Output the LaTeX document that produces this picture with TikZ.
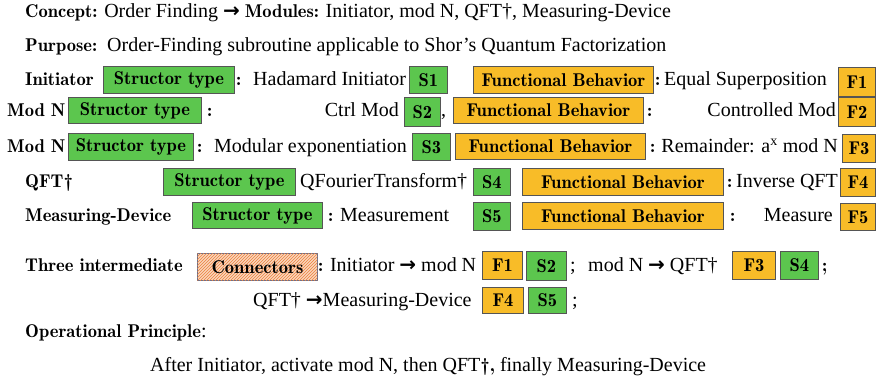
\documentclass[tikz,border=0pt]{standalone}
\usepackage{fontspec}
\setmainfont{Liberation Serif}
\newfontfamily\demi{lmromandemi10-regular}[Extension=.otf]
\newfontfamily\arrowfont{DejaVu Sans}
\usetikzlibrary{patterns}
\definecolor{sgreen}{RGB}{92,198,78}
\definecolor{forange}{RGB}{248,188,40}
\definecolor{cpeach}{RGB}{250,214,188}
\definecolor{cstripe}{RGB}{236,128,60}
\definecolor{cedge}{RGB}{105,112,140}
\definecolor{bedge}{RGB}{85,85,85}
\newcommand{\bt}[1]{{\demi\fontsize{18.5}{22}\selectfont #1}}
\newcommand{\rarr}{{\arrowfont\bfseries →}}
\tikzset{
  txt/.style={anchor=base west, inner sep=0pt, font=\fontsize{20}{24}\selectfont},
  txtr/.style={anchor=base east, inner sep=0pt, font=\fontsize{20}{24}\selectfont},
  tag/.style={draw=bedge, line width=0.9pt, inner sep=0pt, anchor=north west,
    font=\demi\fontsize{18.5}{22}\selectfont},
  sbox/.style={tag, fill=sgreen},
  fbox/.style={tag, fill=forange},
  cbox/.style={tag, draw=cedge, fill=cpeach,
    postaction={pattern=north east lines, pattern color=cstripe}},
}
% style, name, left, top, right, bottom; the label follows in braces
\newcommand{\boxat}[6]{%
  \node[#1, minimum width=#5pt-#3pt, minimum height=#6pt-#4pt] (#2) at (#3,#4)}
\begin{document}
\begin{tikzpicture}[x=1pt,y=-1pt]
\useasboundingbox[fill=white] (0,0) rectangle (885,379);

% heading lines
\node[txt] (concept) at (25,18) {\bt{Concept:} Order Finding \rarr{} \bt{Modules:} Initiator, mod N, QFT†, Measuring-Device};
\node[txt] (purpose) at (25,52) {\bt{Purpose:}\ \ Order-Finding subroutine applicable to Shor’s Quantum Factorization};

% Initiator
\node[txt] (l1) at (25,86) {\bt{Initiator}};
\boxat{sbox}{st1}{103}{66}{234}{93} {Structor type};
\node[txt] (c1) at (236,86) {\bt{:}};
\node[txt] (s1t) at (253,86) {Hadamard Initiator};
\boxat{sbox}{S1}{409}{66}{447}{93} {S1};
\boxat{fbox}{fb1}{473}{66}{653}{93} {Functional Behavior};
\node[txt] (c1b) at (655,86) {\bt{:}};
\node[txt] (f1t) at (664,86) {Equal Superposition};
\boxat{fbox}{F1}{838}{67}{875}{96} {F1};

% Mod N (control)
\node[txt] (l2) at (7,117) {\bt{Mod N}};
\boxat{sbox}{st2}{68}{97}{201}{123} {Structor type};
\node[txt] (c2) at (207,117) {\bt{:}};
\node[txtr] (s2t) at (399,117) {Ctrl Mod};
\boxat{sbox}{S2}{404}{97}{440}{126} {S2};
\node[txt] (cm2) at (441,117) {,};
\boxat{fbox}{fb2}{453}{97}{643}{123} {Functional Behavior};
\node[txt] (c2b) at (647,117) {\bt{:}};
\node[txtr] (f2t) at (836,117) {Controlled Mod};
\boxat{fbox}{F2}{838}{97}{875}{126} {F2};

% Mod N (exponentiation)
\node[txt] (l3) at (7,153) {\bt{Mod N}};
\boxat{sbox}{st3}{68}{133}{193}{160} {Structor type};
\node[txt] (c3) at (197,153) {\bt{:}};
\node[txtr] (s3t) at (407,153) {Modular exponentiation};
\boxat{sbox}{S3}{412}{133}{450}{160} {S3};
\boxat{fbox}{fb3}{455}{133}{645}{159} {Functional Behavior};
\node[txt] (c3b) at (650,153) {\bt{:}};
\node[txtr] (f3t) at (838,153) {Remainder: a\textsuperscript{x} mod N};
\boxat{fbox}{F3}{842}{134}{875}{162} {F3};

% QFT dagger
\node[txt] (l4) at (25,188) {\bt{QFT†}};
\boxat{sbox}{st4}{163}{168}{295}{195} {Structor type};
\node[txt] (s4t) at (300,188) {QFourierTransform†};
\boxat{sbox}{S4}{473}{168}{510}{195} {S4};
\boxat{fbox}{fb4}{522}{168}{723}{195} {Functional Behavior};
\node[txt] (c4b) at (727,188) {\bt{:}};
\node[txtr] (f4t) at (838,188) {Inverse QFT};
\boxat{fbox}{F4}{840}{168}{875}{196} {F4};

% Measuring device
\node[txt] (l5) at (25,222) {\bt{Measuring-Device}};
\boxat{sbox}{st5}{192}{202}{322}{228} {Structor type};
\node[txt] (c5) at (328,222) {\bt{:}};
\node[txt] (s5t) at (340,222) {Measurement};
\boxat{sbox}{S5}{473}{202}{510}{230} {S5};
\boxat{fbox}{fb5}{522}{202}{723}{229} {Functional Behavior};
\node[txt] (c5b) at (730,222) {\bt{:}};
\node[txtr] (f5t) at (833,222) {Measure};
\boxat{fbox}{F5}{840}{203}{875}{230} {F5};

% connectors
\node[txt] (l6) at (25,271) {\bt{Three intermediate}};
\boxat{cbox}{conn}{197}{253}{317}{280} {Connectors};
\node[txt] (k1) at (318,271) {\bt{:} Initiator \rarr{} mod N};
\boxat{fbox}{kF1}{482}{251}{522}{279} {F1};
\boxat{sbox}{kS2}{526}{251}{566}{280} {S2};
\node[txt] (sc1) at (570,271) {;};
\node[txt] (k2) at (588,271) {mod N \rarr{} QFT†};
\boxat{fbox}{kF3}{732}{251}{775}{279} {F3};
\boxat{sbox}{kS4}{780}{251}{818}{279} {S4};
\node[txt] (sc2) at (822,271) {\bt{;}};
\node[txt] (k3) at (253,306) {QFT† \rarr{}Measuring-Device};
\boxat{fbox}{kF4}{482}{287}{523}{313} {F4};
\boxat{sbox}{kS5}{528}{287}{566}{313} {S5};
\node[txt] (sc3) at (572,306) {;};

% operational principle
\node[txt] (op) at (25,337) {\bt{Operational Principle}:};
\node[txt] (opt) at (150,371) {After Initiator, activate mod N, then QFT\bt{†,} finally Measuring-Device};
\end{tikzpicture}
\end{document}
